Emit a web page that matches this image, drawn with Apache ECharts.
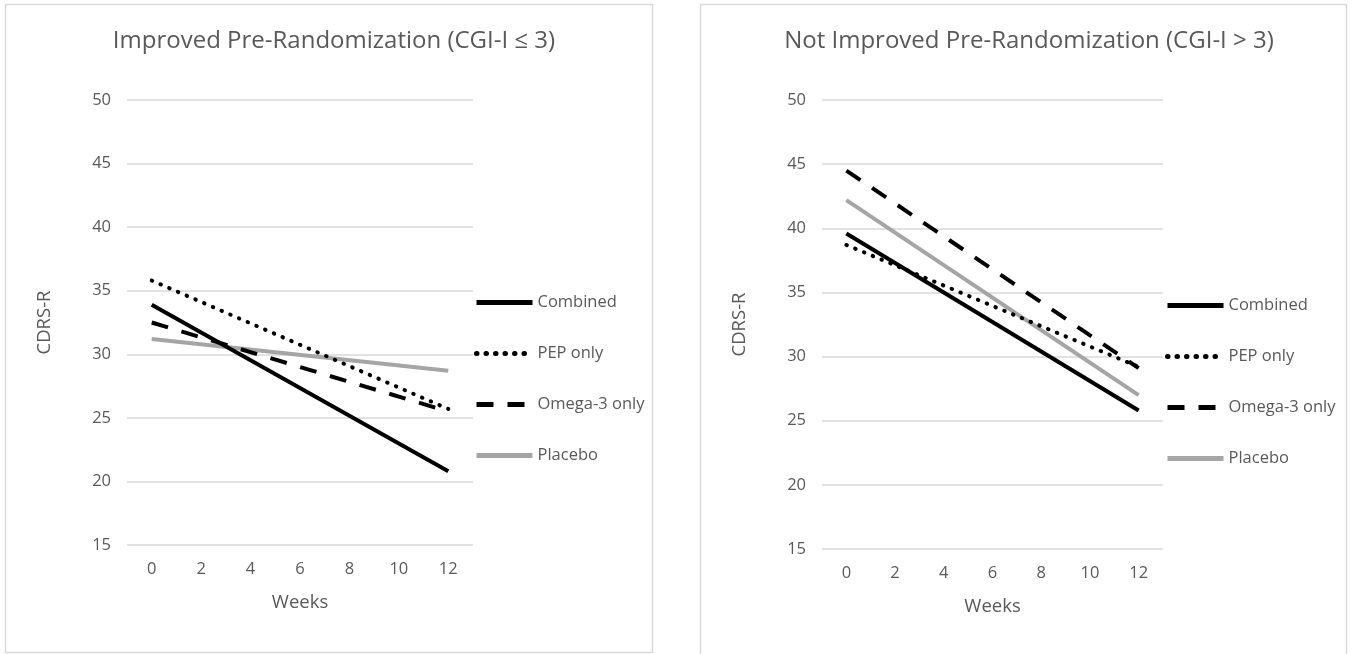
<!DOCTYPE html>
<html>
<head>
<meta charset="utf-8">
<script src="https://cdn.jsdelivr.net/npm/echarts@6/dist/echarts.min.js"></script>
<style>
html,body{margin:0;padding:0;background:#fff;}
#c{width:1353px;height:654px;}
</style>
</head>
<body>
<div id="c"></div>
<script>
// ---- data ----
var weeks = ['0', '2', '4', '6', '8', '10', '12'];
var seriesNames = ['Combined', 'PEP only', 'Omega-3 only', 'Placebo'];
var titleLeft = 'Improved Pre-Randomization (CGI-I \u2264 3)';
var titleRight = 'Not Improved Pre-Randomization (CGI-I > 3)';
var yTicks = [15, 20, 25, 30, 35, 40, 45, 50];
// values at week 0 and week 12 (intermediate weeks not plotted)
var combinedLeft = [33.9, null, null, null, null, null, 20.8];
var pepLeft = [35.8, null, null, null, null, null, 25.7];
var omegaLeft = [32.5, null, null, null, null, null, 25.5];
var placeboLeft = [31.2, null, null, null, null, null, 28.7];
var combinedRight = [39.6, null, null, null, null, null, 25.8];
var pepRight = [38.7, null, null, null, null, null, 29.2];
var omegaRight = [44.5, null, null, null, null, null, 29.1];
var placeboRight = [42.2, null, null, null, null, null, 27.0];

var FONT = 'Open Sans';
var TXT = '#595959';
var styles = [
  {color: '#000000', width: 4, type: 'solid', cap: 'butt'},
  {color: '#000000', width: 4, type: [0.5, 9], cap: 'round'},
  {color: '#000000', width: 4, type: [17, 14], cap: 'butt'},
  {color: '#a5a5a5', width: 4, type: 'solid', cap: 'butt'}
];
var leftData = [combinedLeft, pepLeft, omegaLeft, placeboLeft];
var rightData = [combinedRight, pepRight, omegaRight, placeboRight];

function xAx(gi) {
  return {
    type: 'category', gridIndex: gi, data: weeks, boundaryGap: true,
    axisLine: {show: false}, axisTick: {show: false},
    axisLabel: {color: TXT, fontFamily: FONT, fontSize: 16.5, margin: 16},
    name: 'Weeks', nameLocation: 'middle', nameGap: 48,
    nameTextStyle: {color: TXT, fontFamily: FONT, fontSize: 18.5}
  };
}
function yAx(gi) {
  return {
    type: 'value', gridIndex: gi, min: yTicks[0], max: yTicks[yTicks.length - 1], interval: 5,
    axisLine: {show: false}, axisTick: {show: false},
    axisLabel: {color: TXT, fontFamily: FONT, fontSize: 16.5, margin: 16},
    splitLine: {lineStyle: {color: '#d9d9d9', width: 1.5}},
    name: 'CDRS-R', nameLocation: 'middle', nameRotate: 90, nameGap: 73,
    nameTextStyle: {color: TXT, fontFamily: FONT, fontSize: 18.5}
  };
}
var series = [];
[leftData, rightData].forEach(function (set, gi) {
  set.forEach(function (d, i) {
    series.push({
      type: 'line', name: seriesNames[i], xAxisIndex: gi, yAxisIndex: gi,
      data: d, connectNulls: true, symbol: 'none', showSymbol: false,
      lineStyle: styles[i], itemStyle: {color: styles[i].color},
      emphasis: {disabled: true}, animation: false, z: 4 - i
    });
  });
});
function legend(left, top) {
  return {
    orient: 'vertical', left: left, top: top, itemWidth: 56, itemHeight: 14, itemGap: 34,
    data: seriesNames,
    itemStyle: {opacity: 0},
    lineStyle: {width: 5},
    textStyle: {color: TXT, fontFamily: FONT, fontSize: 16.5}
  };
}
var chart = echarts.init(document.getElementById('c'), null, {renderer: 'canvas'});
chart.setOption({
  backgroundColor: '#fff',
  animation: false,
  title: [
    {text: titleLeft, left: 329, top: 24, textAlign: 'center',
     textStyle: {color: TXT, fontFamily: FONT, fontSize: 24, fontWeight: 'normal'}},
    {text: titleRight, left: 1024, top: 24, textAlign: 'center',
     textStyle: {color: TXT, fontFamily: FONT, fontSize: 24, fontWeight: 'normal'}}
  ],
  graphic: [
    {type: 'rect', shape: {x: 5.5, y: 4.5, width: 647, height: 648}, style: {fill: null, stroke: '#d9d9d9', lineWidth: 1.5}, z: -1},
    {type: 'rect', shape: {x: 700.5, y: 4.5, width: 646, height: 660}, style: {fill: null, stroke: '#d9d9d9', lineWidth: 1.5}, z: -1}
  ],
  grid: [
    {left: 127, top: 100, width: 346, height: 445},
    {left: 822, top: 100, width: 341, height: 449}
  ],
  xAxis: [xAx(0), xAx(1)],
  yAxis: [yAx(0), yAx(1)],
  legend: [legend(469, 289), legend(1160, 292)],
  series: series
});
</script>
</body>
</html>
